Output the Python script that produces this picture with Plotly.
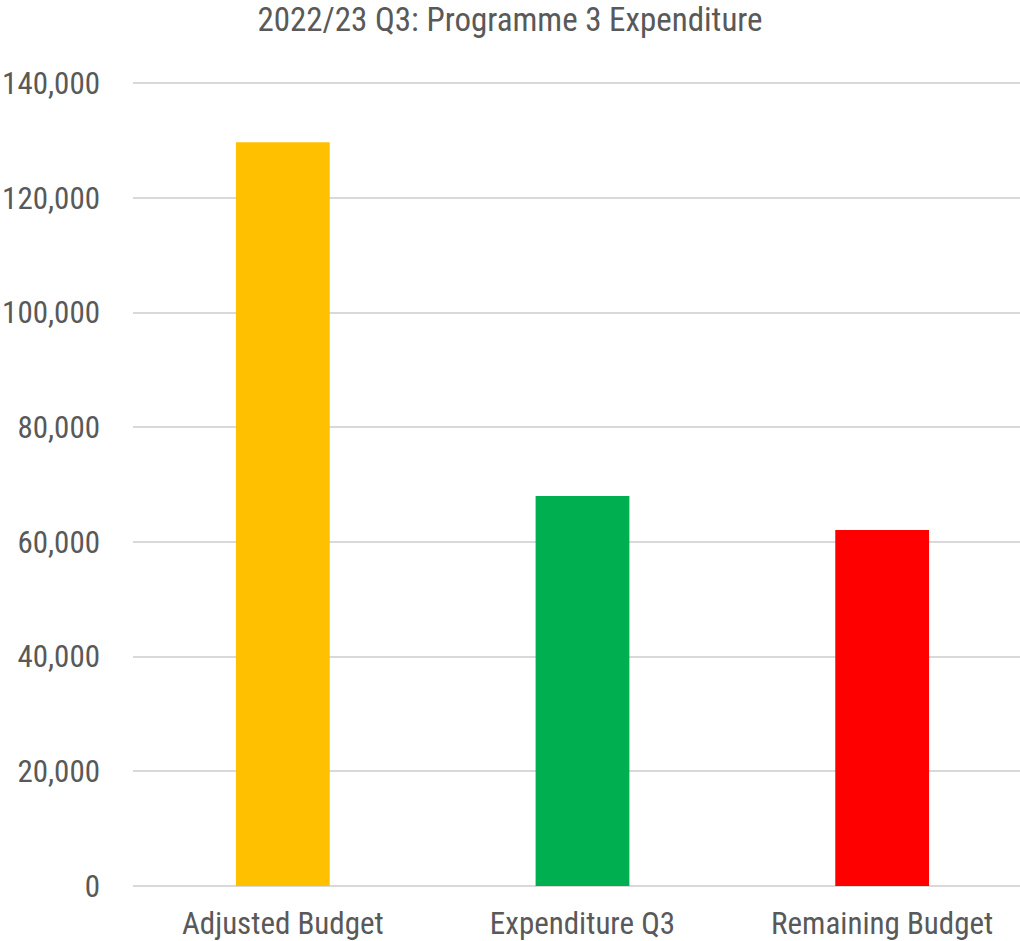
import plotly.graph_objects as go

categories = ["Adjusted Budget", "Expenditure Q3", "Remaining Budget"]
values = [129700, 68000, 62100]
bar_colors = ["#FFC000", "#00B050", "#FF0000"]
tick_vals = [0, 20000, 40000, 60000, 80000, 100000, 120000, 140000]
tick_text = ["0", "20,000", "40,000", "60,000", "80,000", "100,000", "120,000", "140,000"]

FONT = "Liberation Sans Narrow, Arial Narrow, Roboto Condensed, Liberation Sans, Arial, sans-serif"
TEXT = "#595959"
GRID = "#D9D9D9"

fig = go.Figure(
    go.Bar(
        x=categories,
        y=values,
        marker=dict(color=bar_colors, line=dict(width=0)),
        hoverinfo="x+y",
    )
)

fig.update_layout(
    width=1020,
    height=941,
    paper_bgcolor="white",
    plot_bgcolor="white",
    margin=dict(l=133, r=0, t=82, b=55, pad=0, autoexpand=False),
    bargap=0.687,
    showlegend=False,
    font=dict(family=FONT, color=TEXT, size=31),
    title=dict(
        text="2022/23 Q3: Programme 3 Expenditure",
        x=0.5,
        xanchor="center",
        y=0.992,
        yanchor="top",
        automargin=False,
        font=dict(family=FONT, color=TEXT, size=33),
    ),
    xaxis=dict(
        range=[-0.5, 2.46],
        automargin=False,
        showgrid=False,
        showline=False,
        zeroline=False,
        ticks="",
        ticklabelstandoff=16,
        tickfont=dict(family=FONT, color=TEXT, size=31),
    ),
    yaxis=dict(
        # small headroom so the top gridline is drawn inside the plot area
        range=[0, 140200],
        automargin=False,
        tickvals=tick_vals,
        ticktext=tick_text,
        showgrid=True,
        gridcolor=GRID,
        gridwidth=2,
        zeroline=True,
        zerolinecolor=GRID,
        zerolinewidth=2,
        showline=False,
        ticks="",
        ticklabelstandoff=32,
        tickfont=dict(family=FONT, color=TEXT, size=31),
    ),
)

fig.write_html("out.html")
